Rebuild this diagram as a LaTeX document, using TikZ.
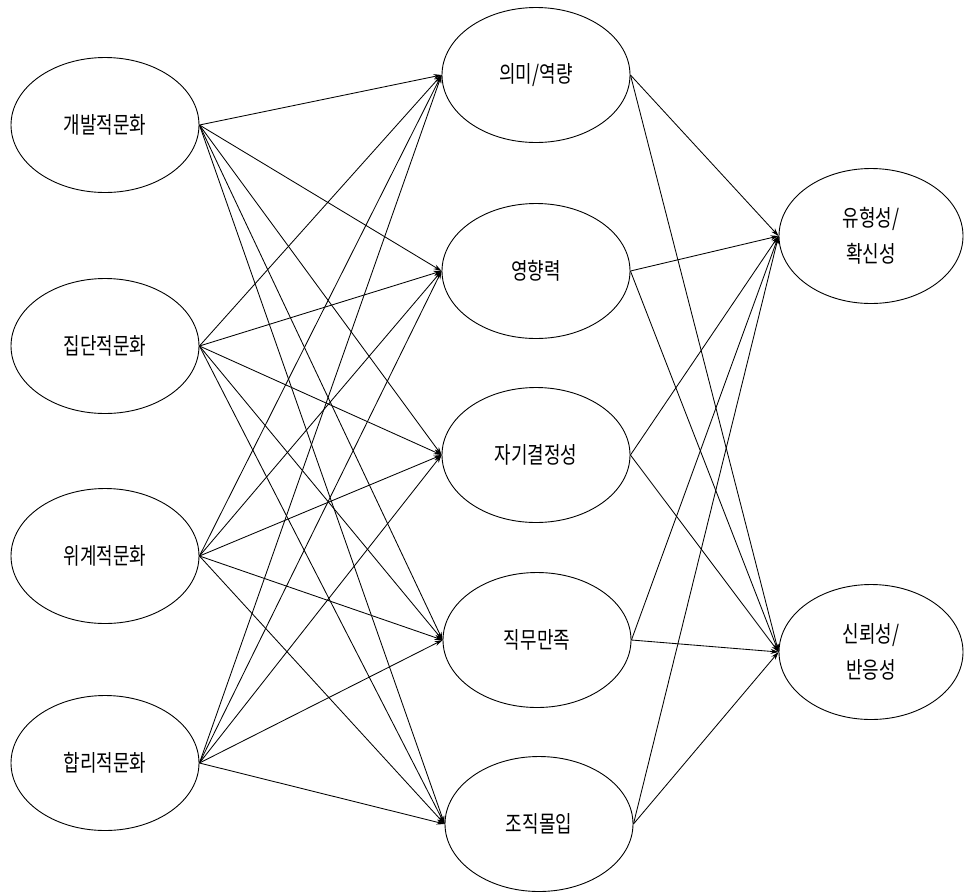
\documentclass[tikz,border=0pt]{standalone}
\usepackage{fontspec}
\newfontfamily\kr[FakeStretch=0.78]{Noto Sans CJK KR}
\usetikzlibrary{shapes.geometric,arrows.meta}
\begin{document}
\begin{tikzpicture}[x=1pt,y=-1pt,
  oval/.style={draw=black,line width=0.9pt,ellipse,inner sep=0pt,minimum width=188pt,minimum height=135pt,font=\kr\fontsize{23}{36}\selectfont,align=center},
  link/.style={draw=black,line width=0.85pt,-{Stealth[length=8pt,width=5pt]}}]
\useasboundingbox (0,0) rectangle (964,895);
\fill[white] (0,0) rectangle (964,895);
% left
\node[oval] (L1) at (105,125) {개발적문화};
\node[oval] (L2) at (105,346) {집단적문화};
\node[oval] (L3) at (105,556) {위계적문화};
\node[oval] (L4) at (105,763) {합리적문화};
% middle
\node[oval] (M1) at (536,75) {의미/역량};
\node[oval] (M2) at (536,271) {영향력};
\node[oval] (M3) at (536,455) {자기결정성};
\node[oval] (M4) at (537,640) {직무만족};
\node[oval] (M5) at (539,824) {조직몰입};
% right
\node[oval,minimum width=184pt] (R1) at (871,236) {유형성/\\확신성};
\node[oval,minimum width=184pt] (R2) at (871,652) {신뢰성/\\반응성};
\foreach \l in {L1,L2,L3,L4}{
  \foreach \m in {M1,M2,M3,M4,M5}{
    \draw[link] (\l.east) -- (\m.west);
  }
}
\foreach \m in {M1,M2,M3,M4,M5}{
  \foreach \r in {R1,R2}{
    \draw[link] (\m.east) -- (\r.west);
  }
}
\end{tikzpicture}
\end{document}
